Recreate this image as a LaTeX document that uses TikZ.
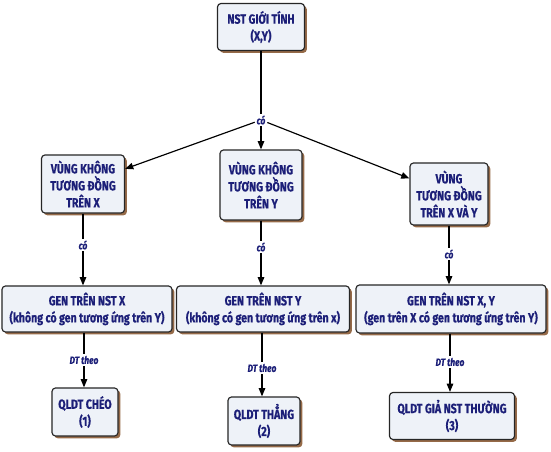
\documentclass[tikz,border=0pt]{standalone}
\usepackage{fontspec}
\setmainfont{Fira Sans}[FakeStretch=0.8, BoldFeatures={FakeBold=0.6}, BoldItalicFeatures={FakeBold=0.6}]
\usetikzlibrary{arrows.meta,shadows}

\definecolor{chuxanh}{HTML}{1C1F78}
\definecolor{nenhop}{HTML}{EEF2F8}
\definecolor{bong}{HTML}{8A5A34}

\tikzset{
  hop/.style={draw=black!85, line width=1pt, fill=nenhop, rounded corners=3pt,
    text=chuxanh, align=center, inner sep=1pt,
    font=\fontsize{11.3}{14.5}\selectfont\bfseries,
    drop shadow={shadow xshift=2pt, shadow yshift=-2pt, fill=bong, opacity=0.9}},
  nhan/.style={fill=white, inner sep=1.5pt, text=chuxanh,
    font=\fontsize{9}{10}\selectfont\bfseries\itshape},
  noi/.style={line width=1pt, -{Triangle[length=7pt,width=5.5pt]}}
}

\begin{document}
\begin{tikzpicture}[x=0.03cm, y=-0.03cm]
  \useasboundingbox (0,0) rectangle (551,452);

  % Hop
  \node[hop, minimum width=2.61cm, minimum height=1.41cm] (gt) at (261,27) {NST GIỚI TÍNH\\(X,Y)};

  \node[hop, minimum width=2.49cm, minimum height=1.74cm] (vx) at (83,184) {VÙNG KHÔNG\\TƯƠNG ĐỒNG\\TRÊN X};
  \node[hop, minimum width=2.46cm, minimum height=2.1cm] (vy) at (261,185) {VÙNG KHÔNG\\TƯƠNG ĐỒNG\\TRÊN Y};
  \node[hop, minimum width=2.34cm, minimum height=1.86cm] (vxy) at (449,194) {VÙNG\\TƯƠNG ĐỒNG\\TRÊN X VÀ Y};

  \node[hop, minimum width=5.1cm, minimum height=1.38cm] (gx) at (87,309) {GEN TRÊN NST X\\(không có gen tương ứng trên Y)};
  \node[hop, minimum width=5.19cm, minimum height=1.38cm] (gy) at (263,309) {GEN TRÊN NST Y\\(không có gen tương ứng trên x)};
  \node[hop, minimum width=5.7cm, minimum height=1.44cm] (gxy) at (451,309) {GEN TRÊN NST X, Y\\(gen trên X có gen tương ứng trên Y)};

  \node[hop, minimum width=1.98cm, minimum height=1.44cm] (qx) at (85,412) {QLDT CHÉO\\(1)};
  \node[hop, minimum width=2.16cm, minimum height=1.44cm] (qy) at (264,421) {QLDT THẲNG\\(2)};
  \node[hop, minimum width=3.75cm, minimum height=1.41cm] (qxy) at (452,416) {QLDT GIẢ NST THƯỜNG\\(3)};

  % Nhan
  \node[nhan] (co0) at (261,120) {có};
  \node[nhan] (cox) at (83,245) {có};
  \node[nhan] (coy) at (261,247) {có};
  \node[nhan] (coxy) at (449,254) {có};
  \node[nhan] (dtx) at (84,360) {DT theo};
  \node[nhan] (dty) at (262,368) {DT theo};
  \node[nhan] (dtxy) at (450,362) {DT theo};

  % Duong noi
  \draw[line width=1pt] (gt) -- (co0);
  \draw[noi] (co0) -- (vx);
  \draw[noi] (co0) -- (vy);
  \draw[noi] (co0) -- (vxy);

  \draw[line width=1pt] (vx) -- (cox);
  \draw[noi] (cox) -- (cox |- gx.north);
  \draw[line width=1pt] (vy) -- (coy);
  \draw[noi] (coy) -- (coy |- gy.north);
  \draw[line width=1pt] (vxy) -- (coxy);
  \draw[noi] (coxy) -- (coxy |- gxy.north);

  \draw[line width=1pt] (dtx |- gx.south) -- (dtx);
  \draw[noi] (dtx) -- (dtx |- qx.north);
  \draw[line width=1pt] (dty |- gy.south) -- (dty);
  \draw[noi] (dty) -- (dty |- qy.north);
  \draw[line width=1pt] (dtxy |- gxy.south) -- (dtxy);
  \draw[noi] (dtxy) -- (dtxy |- qxy.north);
\end{tikzpicture}
\end{document}
